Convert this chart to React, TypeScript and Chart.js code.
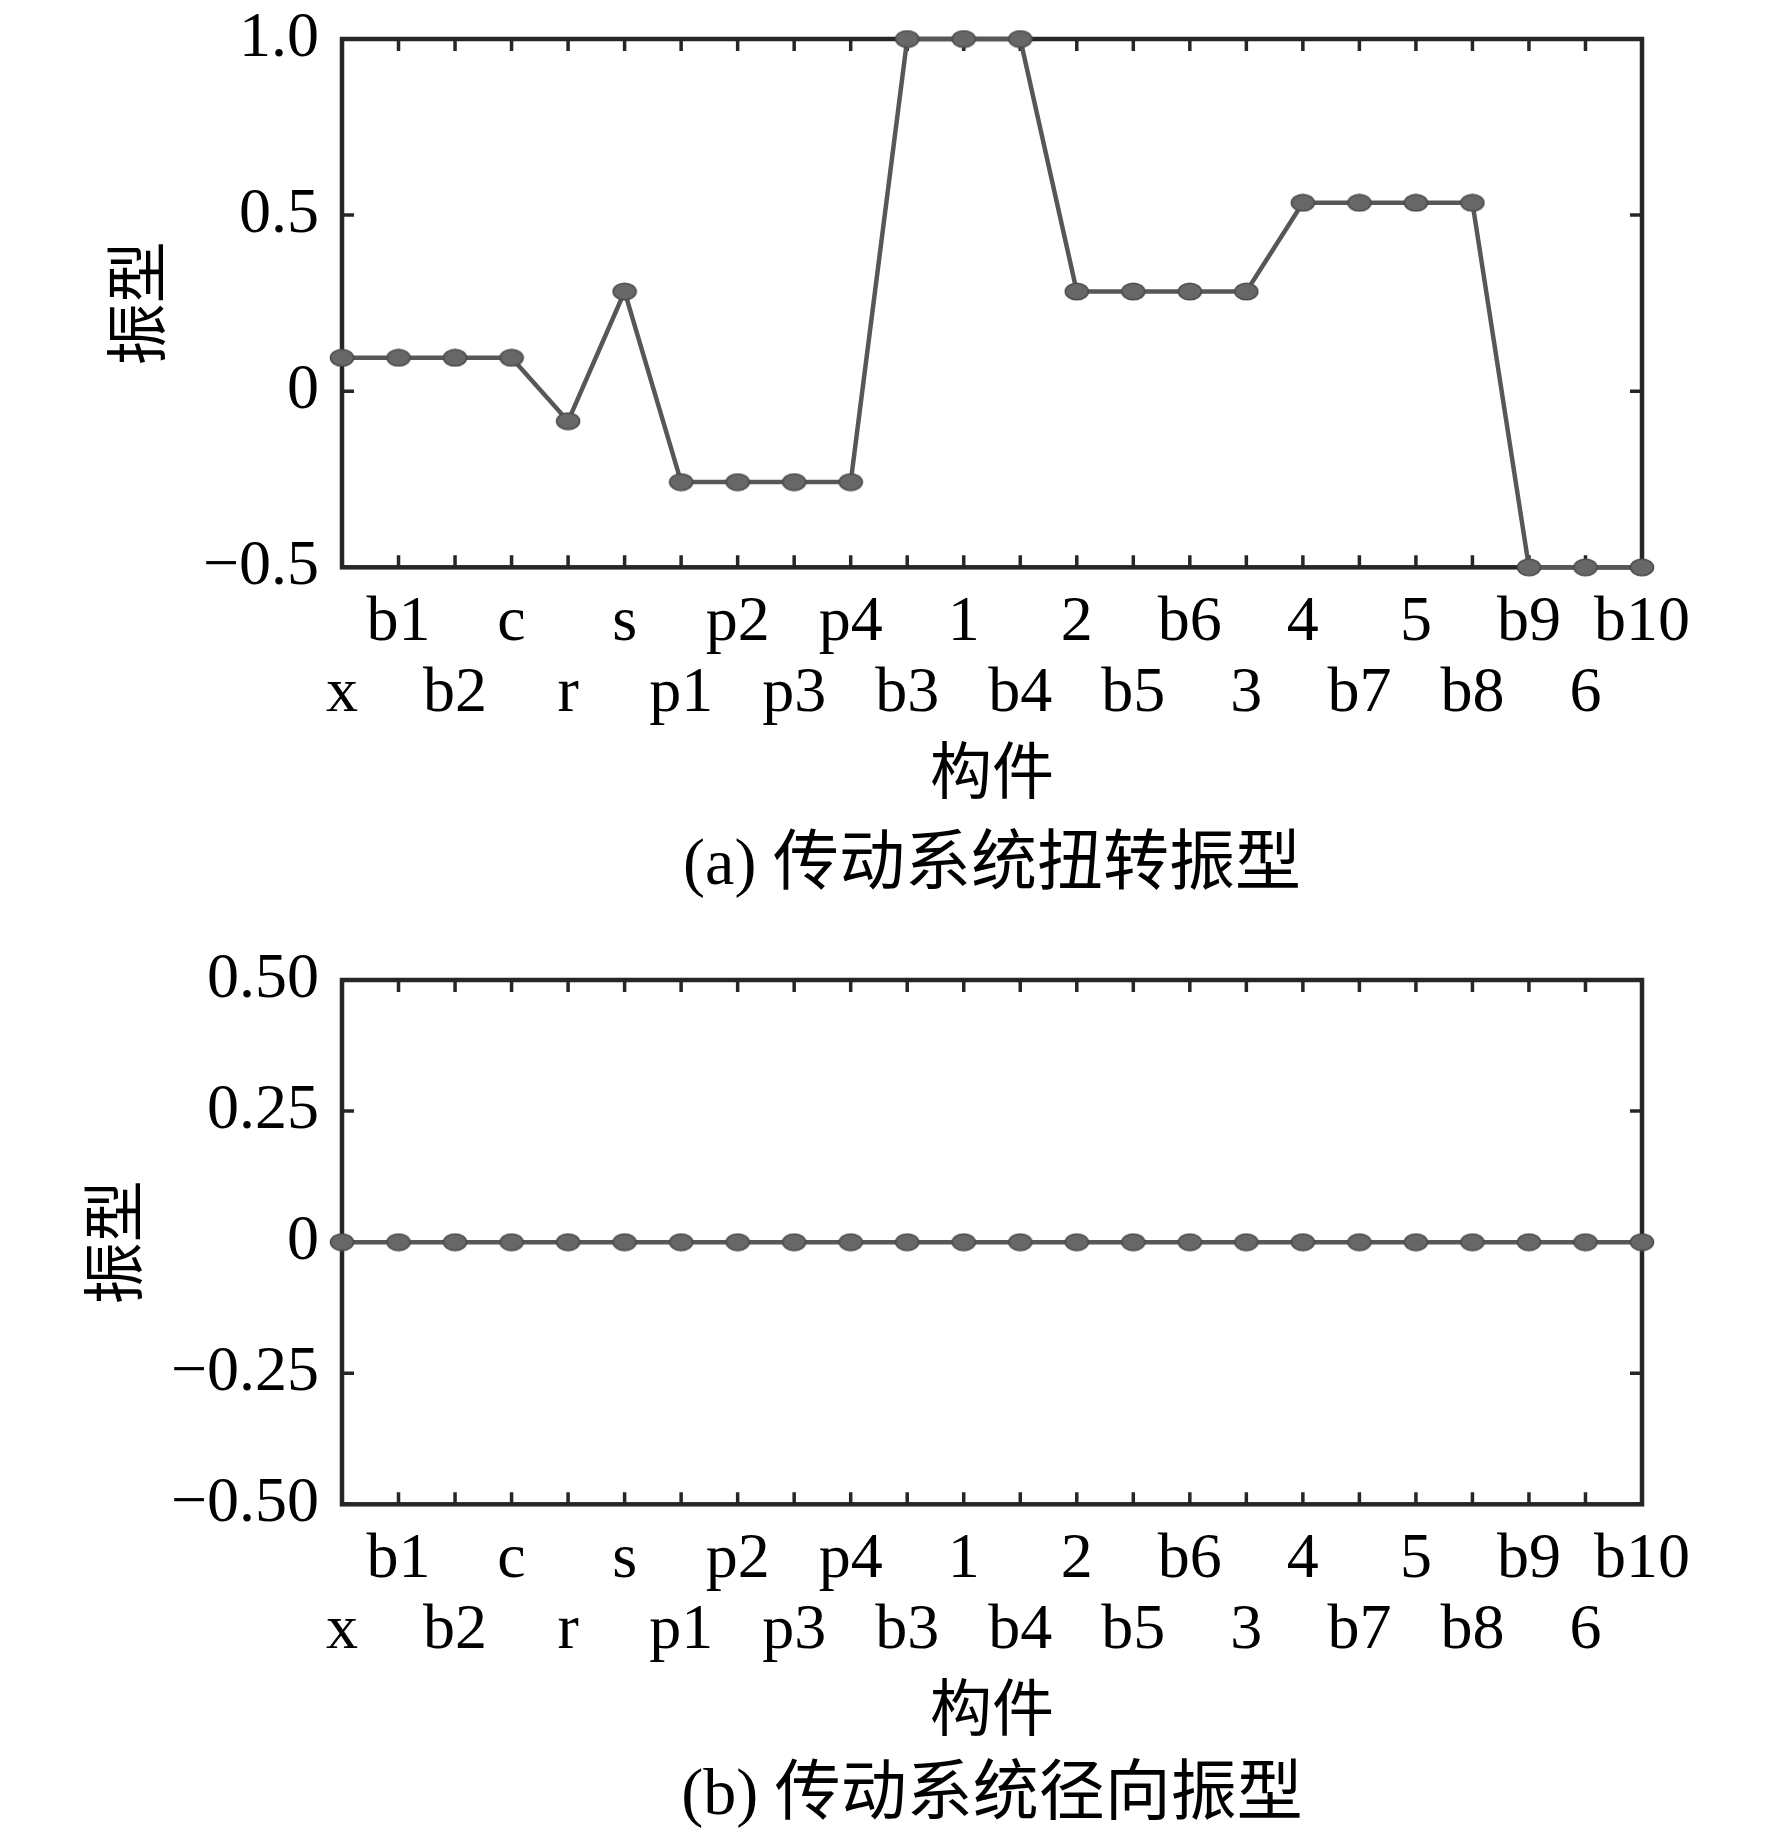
import React, { useEffect, useRef } from 'react';
import { Chart, registerables } from 'chart.js';

Chart.register(...registerables);

// ---- data ----
const components = ['x', 'b1', 'b2', 'c', 'r', 's', 'p1', 'p2', 'p3', 'p4', 'b3', '1', 'b4', '2', 'b5', 'b6', '3', '4', 'b7', '5', 'b8', 'b9', '6', 'b10'];
const torsionalMode = [0.095, 0.095, 0.095, 0.095, -0.085, 0.283, -0.258, -0.258, -0.258, -0.258, 1.0, 1.0, 1.0, 0.283, 0.283, 0.283, 0.283, 0.535, 0.535, 0.535, 0.535, -0.5, -0.5, -0.5];
const radialMode = [0, 0, 0, 0, 0, 0, 0, 0, 0, 0, 0, 0, 0, 0, 0, 0, 0, 0, 0, 0, 0, 0, 0, 0];
const torsionTickValues = [-0.5, 0, 0.5, 1.0];
const torsionTickLabels = ['\u22120.5', '0', '0.5', '1.0'];
const radialTickValues = [-0.5, -0.25, 0, 0.25, 0.5];
const radialTickLabels = ['\u22120.50', '\u22120.25', '0', '0.25', '0.50'];
const xTitle = '构件';
const yTitle = '振型';
const captionA = '(a) 传动系统扭转振型';
const captionB = '(b) 传动系统径向振型';

const SERIF = '"Liberation Serif", "Times New Roman", serif';
const CJK = '"Noto Sans CJK SC", sans-serif';
const MIXED = '"Liberation Serif", "Noto Sans CJK SC", serif';

const TICK_SIZE = 64;
const TICK_LH = 1.11;
const TICK_PAD_X = 20;
const XTITLE_SIZE = 62;
const XTITLE_LH = 1.2;
const XTITLE_PAD = 4;

const framePlugin = {
  id: 'frame',
  beforeDatasetsDraw(chart: any) {
    const { ctx, chartArea } = chart;
    const { left, right, top, bottom } = chartArea;
    const xs = chart.scales.x;
    const ys = chart.scales.y;
    const tl = 12;
    ctx.save();
    ctx.strokeStyle = '#262626';
    ctx.lineWidth = 3.5;
    ctx.beginPath();
    xs.ticks.forEach((_t: any, i: number) => {
      const px = xs.getPixelForTick(i);
      ctx.moveTo(px, bottom);
      ctx.lineTo(px, bottom - tl);
      ctx.moveTo(px, top);
      ctx.lineTo(px, top + tl);
    });
    ys.ticks.forEach((_t: any, i: number) => {
      const py = ys.getPixelForTick(i);
      ctx.moveTo(left, py);
      ctx.lineTo(left + tl, py);
      ctx.moveTo(right, py);
      ctx.lineTo(right - tl, py);
    });
    ctx.stroke();
    ctx.lineWidth = 4.5;
    ctx.strokeRect(left, top, right - left, bottom - top);
    ctx.restore();
  },
};

function makeEllipse(): HTMLCanvasElement {
  const c = document.createElement('canvas');
  c.width = 26;
  c.height = 19;
  const g = c.getContext('2d')!;
  g.beginPath();
  g.ellipse(13, 9.5, 11.5, 8.2, 0, 0, Math.PI * 2);
  g.fillStyle = '#676767';
  g.fill();
  g.lineWidth = 1.6;
  g.strokeStyle = '#4c4c4c';
  g.stroke();
  return c;
}

function buildConfig(
  values: number[],
  tickValues: number[],
  tickLabels: string[],
  caption: string,
  padLeft: number,
  padTop: number,
  captionPad: number,
  pointImg: HTMLCanvasElement
): any {
  const axisLeft = 342;
  const xScaleHeight = TICK_PAD_X + 2 * TICK_SIZE * TICK_LH + XTITLE_PAD + XTITLE_SIZE * XTITLE_LH;
  return {
    type: 'line',
    data: {
      labels: components,
      datasets: [
        {
          data: values,
          borderColor: '#575757',
          borderWidth: 4.5,
          pointStyle: pointImg,
          pointRadius: 10,
          pointHoverRadius: 10,
          fill: false,
          tension: 0,
          clip: false,
        },
      ],
    },
    options: {
      animation: false,
      responsive: false,
      devicePixelRatio: 1,
      events: [],
      layout: { padding: { left: padLeft, right: 130, top: padTop, bottom: 0 } },
      plugins: {
        legend: { display: false },
        tooltip: { enabled: false },
        title: {
          display: true,
          position: 'bottom',
          fullSize: false,
          text: caption,
          color: '#000',
          font: { family: MIXED, size: 66, weight: 'normal', lineHeight: 1.2 },
          padding: { top: captionPad, bottom: 0 },
        },
      },
      scales: {
        x: {
          type: 'category',
          grid: { display: false, drawTicks: false },
          border: { display: false },
          afterFit: (s: any) => {
            s.height = xScaleHeight;
            s.paddingLeft = 0;
            s.paddingRight = 0;
          },
          ticks: {
            autoSkip: false,
            maxRotation: 0,
            minRotation: 0,
            padding: TICK_PAD_X,
            color: '#000',
            font: { family: SERIF, size: TICK_SIZE, lineHeight: TICK_LH },
            callback: (_v: any, i: number) => (i % 2 === 1 ? [components[i], ''] : ['', components[i]]),
          },
          title: {
            display: true,
            text: xTitle,
            color: '#000',
            font: { family: CJK, size: XTITLE_SIZE, lineHeight: XTITLE_LH },
            padding: { top: XTITLE_PAD, bottom: 0 },
          },
        },
        y: {
          min: tickValues[0],
          max: tickValues[tickValues.length - 1],
          grid: { display: false, drawTicks: false },
          border: { display: false },
          afterBuildTicks: (s: any) => {
            s.ticks = tickValues.map((v) => ({ value: v }));
          },
          afterFit: (s: any) => {
            s.width = axisLeft - padLeft;
            s.paddingTop = 0;
            s.paddingBottom = 0;
          },
          ticks: {
            padding: 23,
            color: '#000',
            font: { family: SERIF, size: TICK_SIZE, lineHeight: TICK_LH },
            callback: (v: any) => {
              const idx = tickValues.findIndex((t) => Math.abs(t - v) < 1e-9);
              return idx >= 0 ? tickLabels[idx] : '';
            },
          },
          title: {
            display: true,
            text: yTitle,
            color: '#000',
            font: { family: CJK, size: 62, lineHeight: 1.2 },
            padding: { top: 0, bottom: 0 },
          },
        },
      },
    },
    plugins: [framePlugin],
  };
}

export default function App() {
  const refA = useRef<HTMLCanvasElement | null>(null);
  const refB = useRef<HTMLCanvasElement | null>(null);

  useEffect(() => {
    const img = makeEllipse();
    const a = new Chart(refA.current!, buildConfig(torsionalMode, torsionTickValues, torsionTickLabels, captionA, 99, 39, 19, img));
    const b = new Chart(refB.current!, buildConfig(radialMode, radialTickValues, radialTickLabels, captionB, 76, 74, 12, img));
    return () => {
      a.destroy();
      b.destroy();
    };
  }, []);

  return (
    <div style={{ position: 'absolute', left: 0, top: 0, width: 1772, height: 1841, background: '#fff' }}>
      <canvas ref={refA} width={1772} height={906} style={{ display: 'block', width: 1772, height: 906 }} />
      <canvas ref={refB} width={1772} height={930} style={{ display: 'block', width: 1772, height: 930 }} />
    </div>
  );
}
